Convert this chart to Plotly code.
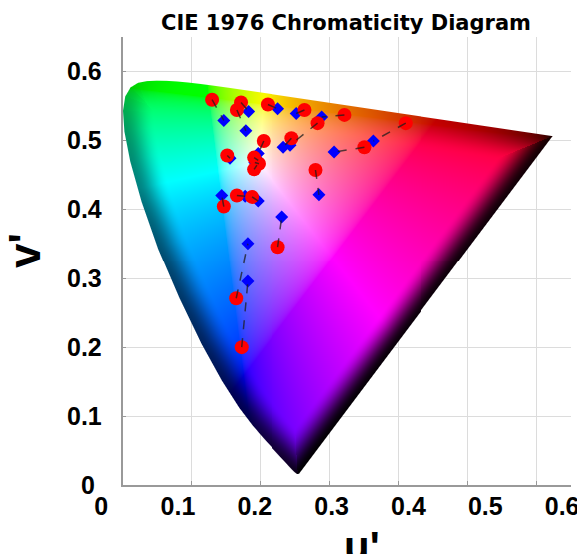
import numpy as np
import plotly.graph_objects as go
import zlib, struct, base64

# ---------------- data ----------------
# measured points (red circles) and their paired targets (blue diamonds), u', v'
red_u = [0.130, 0.172, 0.166, 0.211, 0.264, 0.322, 0.283, 0.245, 0.205, 0.152, 0.191,
         0.198, 0.191, 0.280, 0.166, 0.188, 0.147, 0.351, 0.411, 0.225, 0.165, 0.173]
red_v = [0.559, 0.555, 0.544, 0.552, 0.544, 0.537, 0.525, 0.503, 0.499, 0.478, 0.475,
         0.466, 0.458, 0.457, 0.420, 0.418, 0.404, 0.490, 0.525, 0.345, 0.271, 0.200]
blue_u = [0.147, 0.183, 0.179, 0.225, 0.252, 0.289, 0.243, 0.233, 0.197, 0.156, 0.197,
          0.192, 0.195, 0.285, 0.178, 0.197, 0.144, 0.307, 0.364, 0.231, 0.182, 0.182]
blue_v = [0.529, 0.542, 0.514, 0.546, 0.539, 0.534, 0.493, 0.490, 0.481, 0.474, 0.471,
          0.468, 0.464, 0.421, 0.419, 0.412, 0.420, 0.483, 0.499, 0.389, 0.350, 0.296]

tick_vals = [0, 0.1, 0.2, 0.3, 0.4, 0.5, 0.6]
tick_text = ["0", "0.1", "0.2", "0.3", "0.4", "0.5", "0.6"]

# CIE 1931 2-degree spectral locus (x, y) and luminance ybar, 380-700 nm
wavelengths = [380, 385, 390, 395, 400, 405, 410, 415, 420, 425, 430, 435, 440, 445, 450,
               455, 460, 465, 470, 475, 480, 485, 490, 495, 500, 505, 510, 515, 520, 525,
               530, 535, 540, 545, 550, 555, 560, 565, 570, 575, 580, 585, 590, 595, 600,
               605, 610, 615, 620, 625, 630, 635, 640, 645, 650, 655, 660, 665, 670, 680, 700]
locus_x = [0.1741, 0.1740, 0.1738, 0.1736, 0.1733, 0.1730, 0.1726, 0.1721, 0.1714, 0.1703,
           0.1689, 0.1669, 0.1644, 0.1611, 0.1566, 0.1510, 0.1440, 0.1355, 0.1241, 0.1096,
           0.0913, 0.0687, 0.0454, 0.0235, 0.0082, 0.0039, 0.0139, 0.0389, 0.0743, 0.1142,
           0.1547, 0.1929, 0.2296, 0.2658, 0.3016, 0.3373, 0.3731, 0.4087, 0.4441, 0.4788,
           0.5125, 0.5448, 0.5752, 0.6029, 0.6270, 0.6482, 0.6658, 0.6801, 0.6915, 0.7006,
           0.7079, 0.7140, 0.7190, 0.7230, 0.7260, 0.7283, 0.7300, 0.7311, 0.7320, 0.7334, 0.7347]
locus_y = [0.0050, 0.0050, 0.0049, 0.0049, 0.0048, 0.0048, 0.0048, 0.0048, 0.0051, 0.0058,
           0.0069, 0.0086, 0.0109, 0.0138, 0.0177, 0.0227, 0.0297, 0.0399, 0.0578, 0.0868,
           0.1327, 0.2007, 0.2950, 0.4127, 0.5384, 0.6548, 0.7502, 0.8120, 0.8338, 0.8262,
           0.8059, 0.7816, 0.7543, 0.7243, 0.6923, 0.6589, 0.6245, 0.5896, 0.5547, 0.5202,
           0.4866, 0.4544, 0.4242, 0.3965, 0.3725, 0.3514, 0.3340, 0.3197, 0.3083, 0.2993,
           0.2920, 0.2859, 0.2809, 0.2770, 0.2740, 0.2717, 0.2700, 0.2689, 0.2680, 0.2666, 0.2653]
locus_ybar = [0.000039, 0.000064, 0.00012, 0.000217, 0.000396, 0.00064, 0.00121, 0.00218,
              0.004, 0.0073, 0.0116, 0.01684, 0.023, 0.0298, 0.038, 0.048, 0.06, 0.0739,
              0.09098, 0.1126, 0.13902, 0.1693, 0.20802, 0.2586, 0.323, 0.4073, 0.503,
              0.6082, 0.71, 0.7932, 0.862, 0.91485, 0.954, 0.9803, 0.99495, 1.0, 0.995,
              0.9786, 0.952, 0.9154, 0.87, 0.8163, 0.757, 0.6949, 0.631, 0.5668, 0.503,
              0.4412, 0.381, 0.321, 0.265, 0.217, 0.175, 0.1382, 0.107, 0.0816, 0.061,
              0.04458, 0.032, 0.017, 0.0041]

# ---------------- gamut image ----------------
U_MAX, V_MAX = 0.65, 0.65
W, H = 451, 449
du, dv = U_MAX / W, V_MAX / H
uu = (np.arange(W) + 0.5) * du
vv = (np.arange(H) + 0.5) * dv
U, V = np.meshgrid(uu, vv)  # row 0 = lowest v'

lx = np.array(locus_x); ly = np.array(locus_y)
lden = -2 * lx + 12 * ly + 3
lu = 4 * lx / lden
lv = 9 * ly / lden
le = np.array(locus_ybar) ** 0.45
pu = np.append(lu, lu[0]); pv = np.append(lv, lv[0]); pe = np.append(le, le[0])

inside = np.zeros(U.shape, bool)
dmin = np.full(U.shape, 1e9)
emin = np.ones(U.shape)
for k in range(len(pu) - 1):
    x1, y1, x2, y2 = pu[k], pv[k], pu[k + 1], pv[k + 1]
    cond = ((y1 > V) != (y2 > V))
    xint = (x2 - x1) * (V - y1) / (y2 - y1 + 1e-15) + x1
    inside ^= cond & (U < xint)
    ex, ey = x2 - x1, y2 - y1
    L2 = max(ex * ex + ey * ey, 1e-12)
    t = np.clip(((U - x1) * ex + (V - y1) * ey) / L2, 0, 1)
    d = np.hypot(U - (x1 + t * ex), V - (y1 + t * ey))
    m = d < dmin
    dmin = np.where(m, d, dmin)
    emin = np.where(m, pe[k] + t * (pe[k + 1] - pe[k]), emin)

den = 6 * U - 16 * V + 12
cx = 9 * U / den
cy = np.maximum(4 * V / den, 1e-6)
X = cx / cy
Y = np.ones_like(cx)
Z = (1 - cx - cy) / cy
M = np.array([[3.2406, -1.5372, -0.4986], [-0.9689, 1.8758, 0.0415], [0.0557, -0.2040, 1.0570]])
rgb = np.stack([M[i, 0] * X + M[i, 1] * Y + M[i, 2] * Z for i in range(3)], axis=-1)
rgb = np.clip(rgb, 0, None)
rgb = rgb / np.maximum(rgb.max(axis=-1, keepdims=True), 1e-9)
rgb = np.where(rgb <= 0.0031308, 12.92 * rgb, 1.055 * rgb ** (1 / 2.4) - 0.055)

w = 0.045
s = np.clip(dmin / w, 0, 1)
s = s * s * (3 - 2 * s)
bright = emin + (1 - emin) * s
rgb = rgb * bright[..., None]

px_per_unit = 690.0
sd = np.where(inside, dmin, -dmin) * px_per_unit
alpha = np.clip(0.5 + sd, 0, 1)
rgba = np.concatenate([rgb, alpha[..., None]], axis=-1)
rgba = (np.clip(rgba, 0, 1) * 255 + 0.5).astype(np.uint8)


def png_uri(arr):
    h, w_ = arr.shape[:2]
    raw = b''.join(b'\x00' + arr[i].tobytes() for i in range(h))

    def chunk(tag, data):
        c = struct.pack('>I', len(data)) + tag + data
        return c + struct.pack('>I', zlib.crc32(tag + data) & 0xffffffff)
    png = (b'\x89PNG\r\n\x1a\n' + chunk(b'IHDR', struct.pack('>IIBBBBB', w_, h, 8, 6, 0, 0, 0))
           + chunk(b'IDAT', zlib.compress(raw, 9)) + chunk(b'IEND', b''))
    return 'data:image/png;base64,' + base64.b64encode(png).decode()


# ---------------- figure ----------------
fig = go.Figure()
fig.add_trace(go.Image(source=png_uri(rgba), x0=uu[0], dx=du, y0=vv[0], dy=dv,
                       hoverinfo='skip'))

lx_, ly_ = [], []
for a, b, c, d in zip(red_u, red_v, blue_u, blue_v):
    lx_ += [a, c, None]
    ly_ += [b, d, None]

fig.add_trace(go.Scatter(x=blue_u, y=blue_v, mode='markers',
                         marker=dict(symbol='diamond', size=10, color='#0000ff'),
                         showlegend=False, hoverinfo='skip'))
fig.add_trace(go.Scatter(x=red_u, y=red_v, mode='markers',
                         marker=dict(symbol='circle', size=14, color='#ff0000'),
                         showlegend=False, hoverinfo='skip'))
fig.add_trace(go.Scatter(x=lx_, y=ly_, mode='lines',
                         line=dict(color='rgba(30,30,30,0.75)', width=1.5, dash='dash'),
                         showlegend=False, hoverinfo='skip'))
# invisible trace that carries the tick-label axis
fig.add_trace(go.Scatter(x=[0.3], y=[0.5], xaxis='x2', yaxis='y2', mode='markers',
                         marker=dict(opacity=0), showlegend=False, hoverinfo='skip'))

# the page body adds an 8px offset; lay the figure out in screen pixels minus that
OFF = 8
FW, FH = 585 - OFF, 554 - OFF
L, R = 90 - OFF, 3
PW = FW - L - R
T = 37 - OFF
PLOT_BOTTOM = 485 - OFF
B = FH - PLOT_BOTTOM
PH = PLOT_BOTTOM - T
x_left_px, x_right_px = 121 - OFF, 572 - OFF
lab_px0, lab_scale = 101.1 - OFF, 768.4   # label axis: pixel = lab_px0 + lab_scale*value


def px_x(p):
    return (p - OFF - L) / PW


def px_y(p):
    return (PLOT_BOTTOM - (p - OFF)) / PH


# the "0" on the v' axis sits centred under the other labels
y_tick_text = [t + "\u00a0" if t == "0" else t for t in tick_text]

tickfont = dict(family='Liberation Sans, Arial', size=25, color='black', weight='bold')
fig.update_layout(
    width=FW, height=FH,
    margin=dict(l=L, r=R, t=T, b=B, autoexpand=False),
    paper_bgcolor='white', plot_bgcolor='rgba(0,0,0,0)',
    title=dict(text='CIE 1976 Chromaticity Diagram', x=px_x(346), xref='paper', xanchor='center',
               y=1 - (23 - OFF) / FH, yref='container', yanchor='middle', automargin=False,
               font=dict(family='DejaVu Sans', size=21, color='black', weight='bold')),
    xaxis=dict(domain=[(x_left_px - L) / PW, (x_right_px - L) / PW], range=[0, U_MAX],
               tickvals=tick_vals, showticklabels=False, ticks='inside', ticklen=4,
               tickcolor='#999999', showgrid=True, gridcolor='#dcdcdc', gridwidth=1.2,
               showline=True, linecolor='#999999', linewidth=1.5, zeroline=False,
               automargin=False),
    yaxis=dict(range=[0, V_MAX], tickvals=tick_vals, ticktext=y_tick_text, tickfont=tickfont,
               ticks='inside', ticklen=4, tickcolor='#999999', ticklabelstandoff=14,
               showgrid=True, gridcolor='#dcdcdc', gridwidth=1.2, automargin=False,
               showline=True, linecolor='#999999', linewidth=1.5, zeroline=False),
    xaxis2=dict(domain=[0, 1], anchor='free', position=7 / PH,
                automargin=False,
                range=[(L - lab_px0) / lab_scale, (FW - R - lab_px0) / lab_scale],
                tickvals=tick_vals, ticktext=tick_text, tickfont=tickfont,
                ticks='outside', ticklen=0, ticklabelstandoff=6,
                showgrid=False, showline=False, zeroline=False),
    yaxis2=dict(overlaying='y', range=[0, 1], visible=False, showgrid=False, zeroline=False,
                automargin=False),
    annotations=[
        dict(text="u'", xref='paper', yref='paper', x=px_x(362), y=px_y(546),
             xanchor='center', yanchor='middle', showarrow=False,
             font=dict(family='Liberation Sans, Arial', size=42, color='black', weight='bold')),
        dict(text="v'", xref='paper', yref='paper', x=px_x(24), y=px_y(251),
             xanchor='center', yanchor='middle', showarrow=False, textangle=-90,
             font=dict(family='Liberation Sans, Arial', size=44, color='black', weight='bold')),
    ],
)

fig.write_html("out.html")
